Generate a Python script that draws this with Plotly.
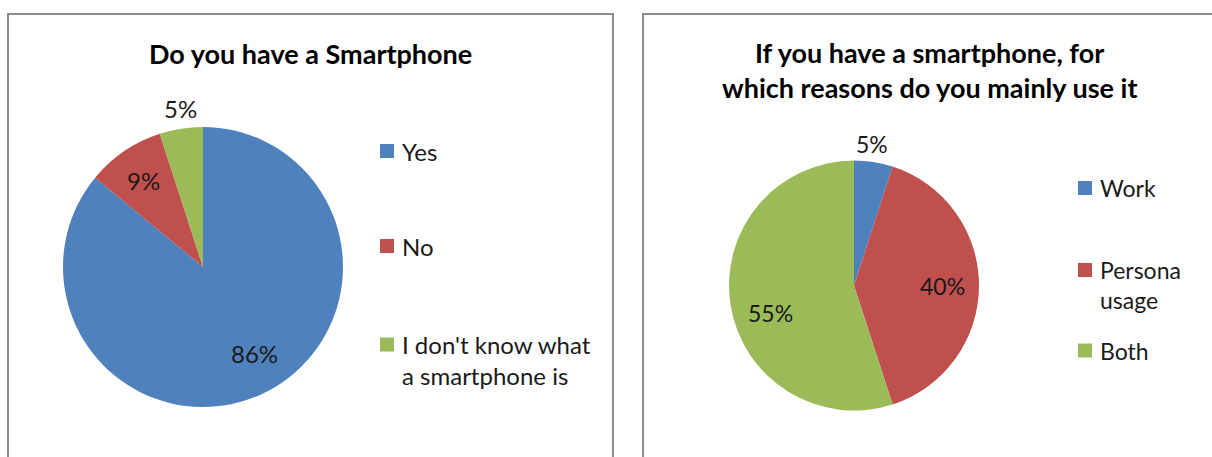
import math
import plotly.graph_objects as go

W, H = 1212, 457

# Survey data
own_labels = ["Yes", "No", "I don't know what<br>a smartphone is"]
own_values = [86, 9, 5]

use_labels = ["Work", "Persona<br>usage", "Both"]
use_values = [5, 40, 55]

colors = ["#4F81BD", "#C0504D", "#9BBB59"]

titles = [["Do you have a Smartphone"],
          ["If you have a smartphone, for", "which reasons do you mainly use it"]]

FONT = "Lato"
TEXT = "#1a1a1a"


def px_x(x):
    return x / W


def px_y(y):
    return 1 - y / H


def text(x, y, s, size, anchor="center", bold=False, color=TEXT, shift=(0, 0)):
    return dict(
        x=px_x(x), y=px_y(y), xref="paper", yref="paper",
        text=f"<b>{s}</b>" if bold else s, showarrow=False,
        font=dict(family=FONT, size=size, color=color),
        xanchor=anchor, yanchor="middle",
        xshift=shift[0], yshift=-shift[1])


fig = go.Figure()
annotations = []
shapes = []

# per-panel geometry: pie centre/radius, title, legend placement,
# label radial factors and small best-fit nudges (px)
panels = [
    dict(values=own_values, labels=own_labels, cx=203, cy=267, r=140,
         tx=310, ty=[53], tfs=27, lx=380, rows=[151, 246, 344.5], lh=31,
         factors=[0.72, 0.75, 1.146], nudges=[(9, -5), (0, 0), (3, 0)], fs=24),
    dict(values=use_values, labels=use_labels, cx=854, cy=285.5, r=125,
         tx=929, ty=[52, 87], tfs=27, lx=1078, rows=[188, 270, 350.5], lh=30,
         factors=[1.15, 0.706, 0.69], nudges=[(-4, 0), (0, 0), (2, 14)], fs=23),
]

for i, p in enumerate(panels):
    cx, cy, r = p["cx"], p["cy"], p["r"]
    fig.add_trace(go.Pie(
        values=p["values"], labels=p["labels"], sort=False,
        direction="clockwise", rotation=0,
        marker=dict(colors=colors, line=dict(width=0)),
        textinfo="none", hoverinfo="label+percent", showlegend=False,
        domain=dict(x=[px_x(cx - r), px_x(cx + r)],
                    y=[px_y(cy + r), px_y(cy - r)]),
    ))

    # percentage labels placed along each slice's mid-angle
    total = sum(p["values"])
    start = 0.0
    for v, f, nd in zip(p["values"], p["factors"], p["nudges"]):
        frac = v / total
        mid = (start + frac / 2) * 2 * math.pi
        start += frac
        x = cx + f * r * math.sin(mid)
        y = cy - f * r * math.cos(mid)
        annotations.append(text(x, y, f"{round(100 * v / total)}%", p["fs"], shift=nd))

    # title
    for line, ty in zip(titles[i], p["ty"]):
        annotations.append(text(p["tx"], ty, line, p["tfs"], bold=True, color="#000000"))

    # legend: swatch aligned with the first line of each entry
    sq = 14
    for lab, col, ry in zip(p["labels"], colors, p["rows"]):
        shapes.append(dict(
            type="rect", xref="paper", yref="paper",
            x0=px_x(p["lx"]), x1=px_x(p["lx"] + sq),
            y0=px_y(ry + sq / 2), y1=px_y(ry - sq / 2),
            fillcolor=col, line=dict(width=0)))
        for k, line in enumerate(lab.split("<br>")):
            annotations.append(text(p["lx"] + 20, ry + k * p["lh"], line,
                                    p["fs"], anchor="left"))

# panel frames
for x0, x1 in [(8, 613), (643, 1240)]:
    shapes.append(dict(
        type="rect", xref="paper", yref="paper",
        x0=px_x(x0), x1=px_x(x1), y0=px_y(480), y1=px_y(14),
        line=dict(color="#8c8c8c", width=2), fillcolor="rgba(0,0,0,0)"))

fig.update_layout(
    width=W, height=H,
    margin=dict(l=0, r=0, t=0, b=0),
    paper_bgcolor="white", plot_bgcolor="white",
    annotations=annotations, shapes=shapes,
)

fig.write_html("out.html")
